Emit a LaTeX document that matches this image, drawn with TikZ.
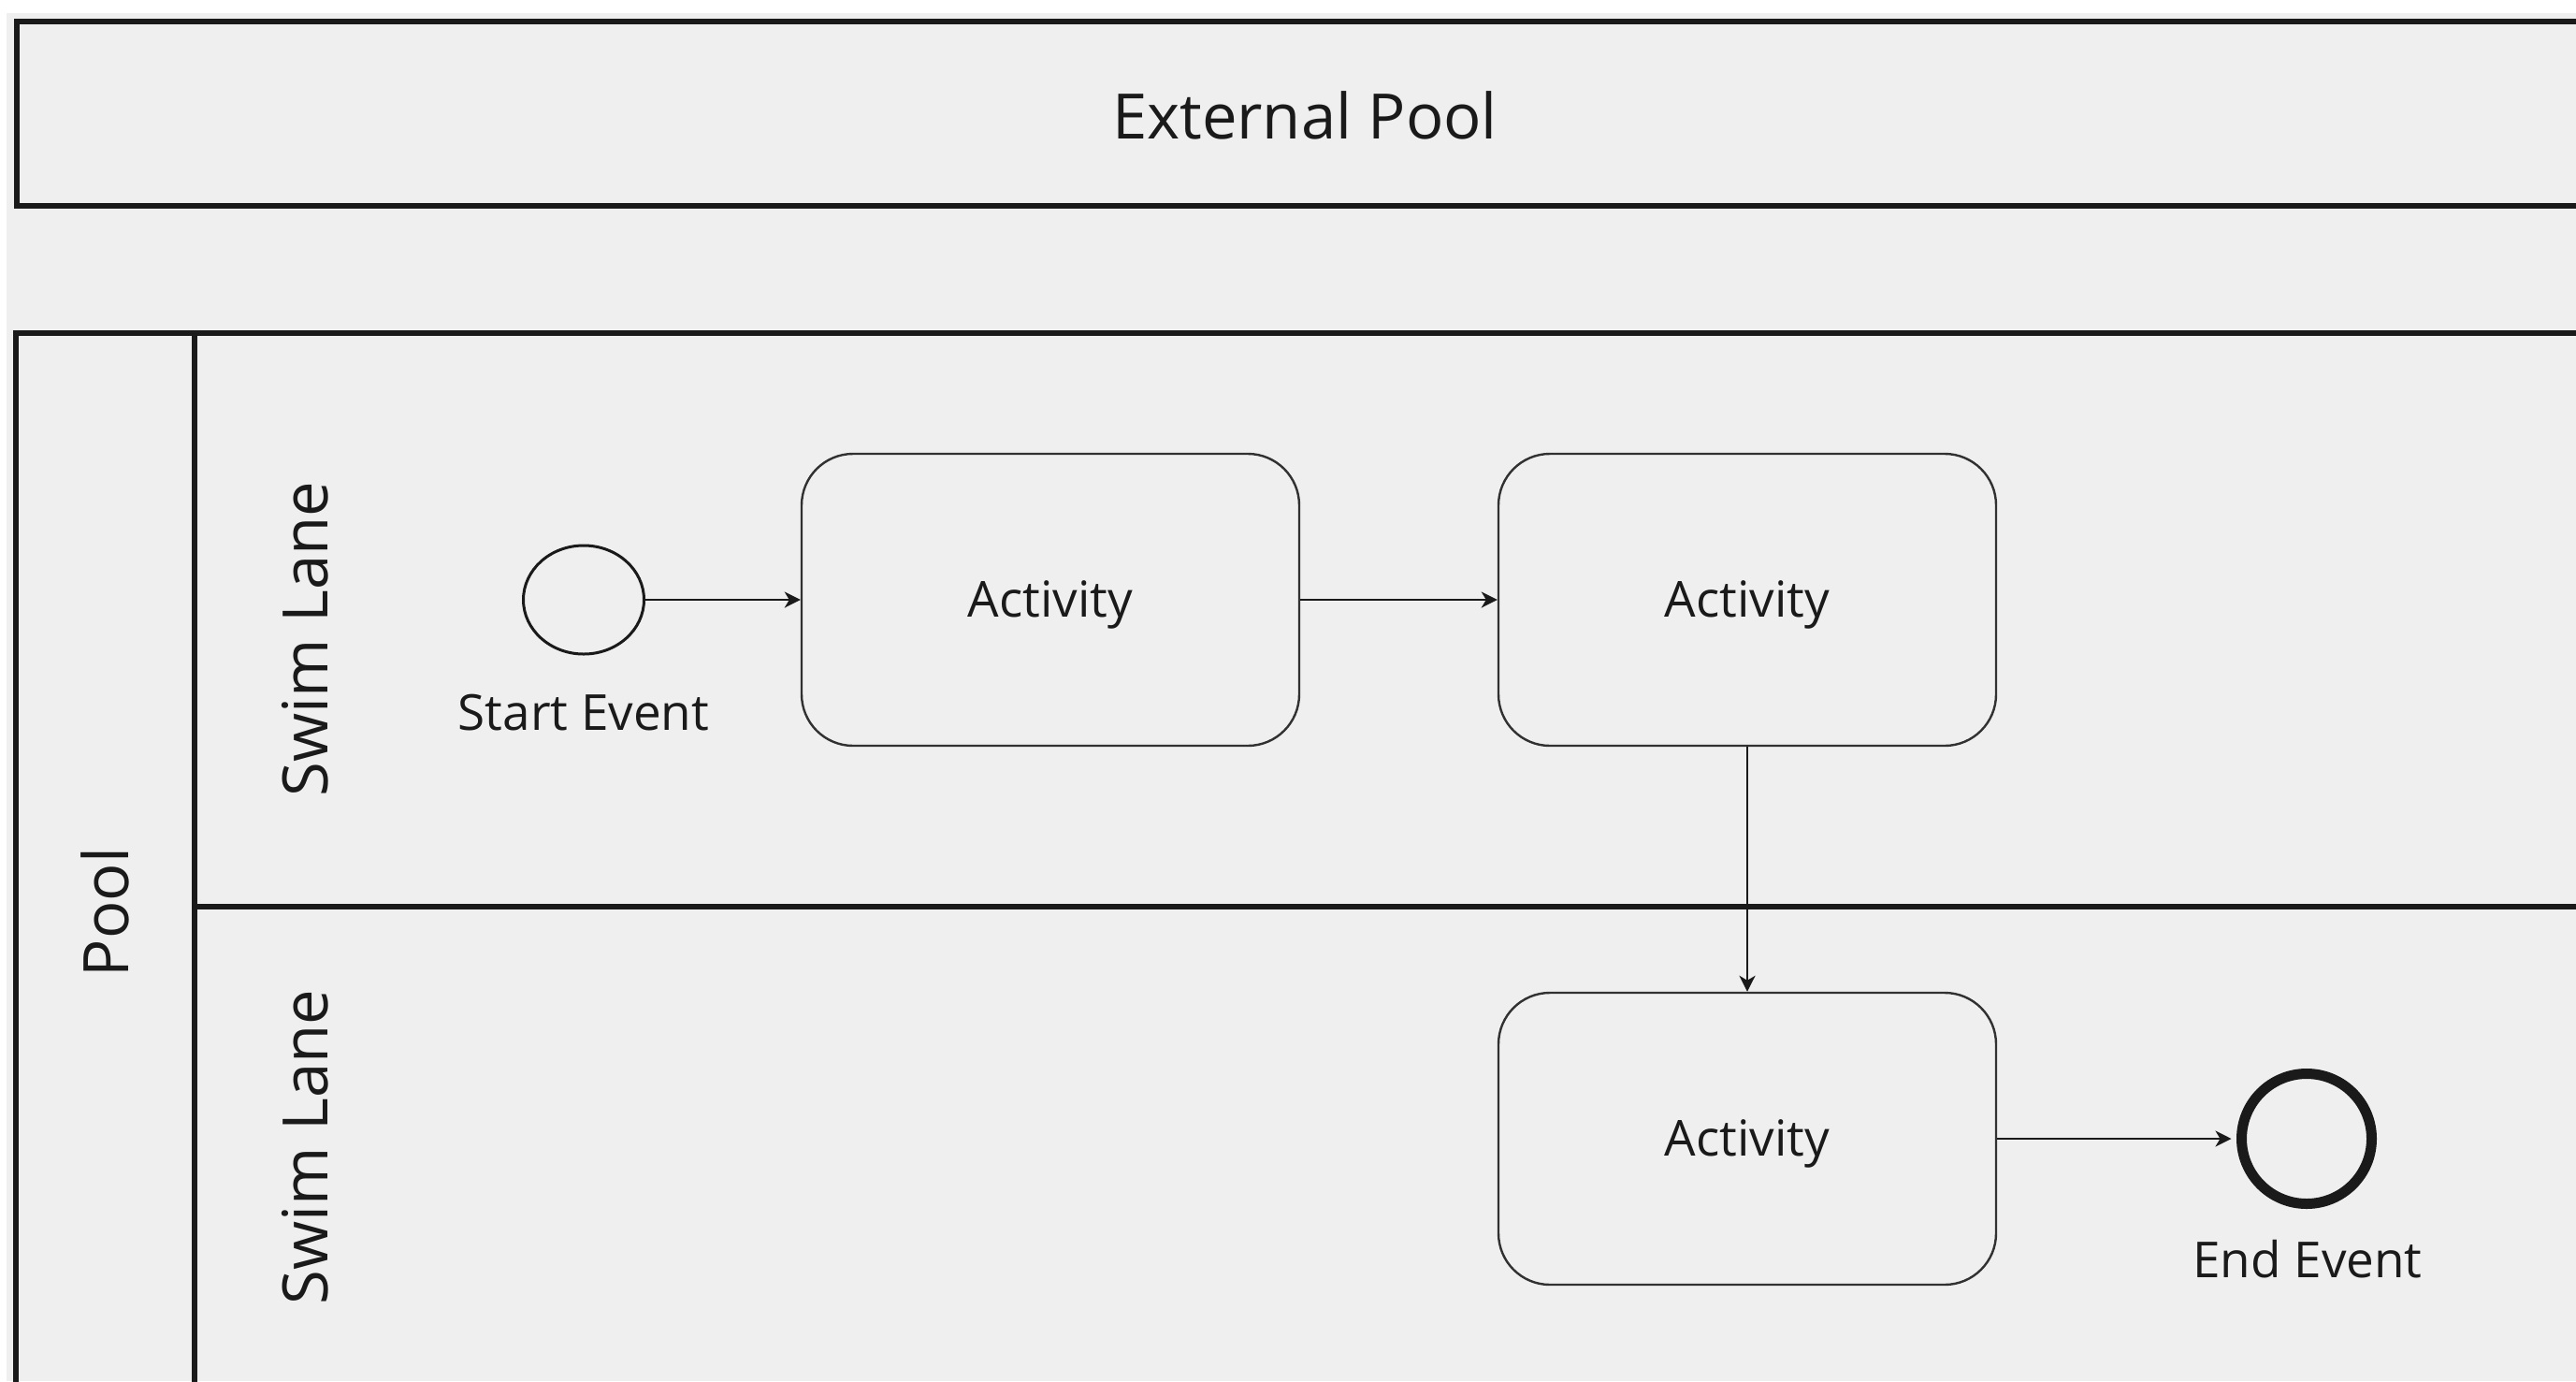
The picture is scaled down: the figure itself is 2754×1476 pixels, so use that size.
\documentclass[tikz,border=0pt]{standalone}
\usepackage{fontspec}
\setmainfont{Open Sans}
\usetikzlibrary{shapes.geometric,arrows.meta}
\definecolor{canvas}{HTML}{EFEFEF}
\definecolor{ink}{HTML}{1A1A1A}
\tikzset{
  poolline/.style={draw=ink, line width=6pt},
  bigtext/.style={font=\fontsize{67}{80}\selectfont, text=ink, inner sep=0pt},
  smalltext/.style={font=\fontsize{53}{64}\selectfont, text=ink, inner sep=0pt},
  activitybox/.style={draw=ink!90, line width=2.4pt, rounded corners=55pt,
    minimum width=532pt, minimum height=312pt, inner sep=0pt,
    font=\fontsize{53}{64}\selectfont, text=ink, text height=37.8pt, text depth=0pt},
  startevent/.style={ellipse, draw=ink, line width=3pt, minimum width=129pt,
    minimum height=116pt, inner sep=0pt},
  endevent/.style={circle, draw=ink, line width=11pt, minimum size=139pt, inner sep=0pt},
  flow/.style={draw=ink, line width=2.8pt,
    -{Stealth[length=17pt, width=17pt, inset=5pt]}},
}
\begin{document}
\begin{tikzpicture}[x=1pt, y=-1pt]
  % page and canvas
  \useasboundingbox (0,0) rectangle (2754,1476);
  \clip (0,0) rectangle (2754,1476);
  \fill[white] (0,0) rectangle (2754,1476);
  \fill[canvas] (7,14) rectangle (2754,1476);

  % external pool
  \draw[poolline] (2800,23) -- (17.5,23) -- (17.5,219.5) -- (2800,219.5);
  \node[bigtext, anchor=base] (extlabel) at (1395,148) {External Pool};

  % pool with its two lanes
  \draw[poolline] (2800,356) -- (17,356) -- (17,1520);
  \draw[poolline] (208,356) -- (208,1520);
  \draw[poolline] (208,969) -- (2800,969);
  \node[bigtext, rotate=90, anchor=base] (poollabel) at (137,975) {Pool};
  \node[bigtext, rotate=90, anchor=base] (lane1label) at (350,683) {Swim Lane};
  \node[bigtext, rotate=90, anchor=base] (lane2label) at (350,1226) {Swim Lane};

  % flow elements
  \node[startevent] (start) at (624,641) {};
  \node[smalltext, anchor=base] (startlabel) at (624,780) {Start Event};
  \node[activitybox] (act1) at (1123,641) {Activity};
  \node[activitybox] (act2) at (1868,641) {Activity};
  \node[activitybox] (act3) at (1868,1217) {Activity};
  \node[endevent] (end) at (2466,1217) {};
  \node[smalltext, anchor=base] (endlabel) at (2467,1365) {End Event};

  % sequence flows
  \draw[flow] (start) -- (act1);
  \draw[flow] (act1) -- (act2);
  \draw[flow] (act2) -- (act3);
  \draw[flow, shorten >=5.5pt] (act3) -- (end);
\end{tikzpicture}
\end{document}
